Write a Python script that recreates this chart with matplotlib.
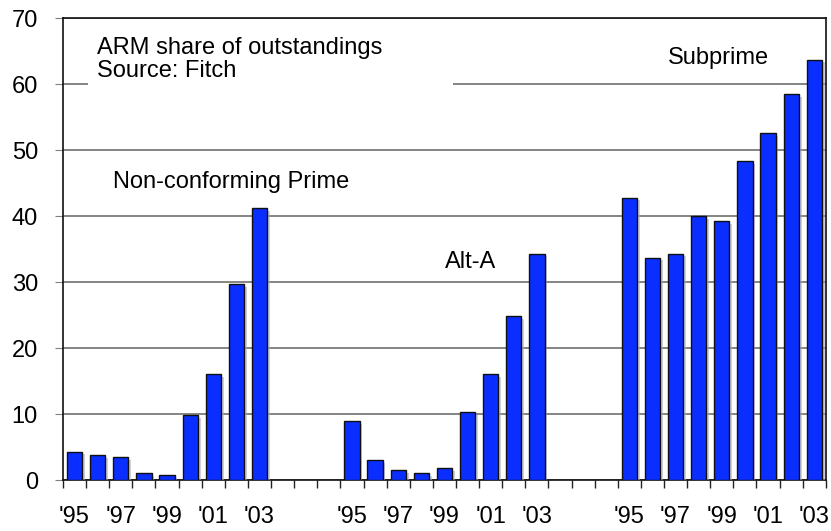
import numpy as np
import matplotlib.pyplot as plt
import matplotlib.patheffects as pe
from matplotlib.patches import Rectangle

plt.rcParams['font.family'] = ['Liberation Sans', 'DejaVu Sans']

years = ["'95", "'96", "'97", "'98", "'99", "'00", "'01", "'02", "'03"]
prime = [4.3, 3.8, 3.5, 1.0, 0.7, 9.8, 16.0, 29.7, 41.2]
alt_a = [8.9, 3.0, 1.5, 1.0, 1.8, 10.3, 16.0, 24.8, 34.3]
subprime = [42.8, 33.7, 34.3, 40.0, 39.2, 48.3, 52.6, 58.5, 63.7]
groups = [prime, alt_a, subprime]
group_gap = 3  # empty slots between groups

fs = 17

fig = plt.figure(figsize=(8.31, 5.31), dpi=100)
ax = fig.add_axes([0.0758, 0.096, 0.918, 0.870])

labels_pos = []
labels = []
for g, vals in enumerate(groups):
    off = g * (len(years) + group_gap)
    xs = np.arange(len(vals)) + off
    ax.bar(xs, vals, width=0.66, color='#0A2EFF', edgecolor='#101010',
           linewidth=1.0, zorder=3,
           path_effects=[pe.SimplePatchShadow(offset=(2, -2), shadow_rgbFace='#b0b0c0', alpha=0.6),
                         pe.Normal()])
    for i in range(0, len(years), 2):
        labels_pos.append(off + i)
        labels.append(years[i])

nslots = 3 * len(years) + 2 * group_gap
ax.set_xlim(-0.5, nslots - 0.5)
ax.set_ylim(0, 70)
ax.set_yticks(range(0, 71, 10))
ax.tick_params(axis='y', labelsize=fs, length=6, color='#808080', pad=12)
ax.yaxis.grid(True, color='#707070', linewidth=1.2, zorder=0)
ax.set_axisbelow(True)

ax.set_xticks(labels_pos)
ax.set_xticklabels(labels)
ax.set_xticks(np.arange(-0.5, nslots, 1), minor=True)
ax.tick_params(axis='x', which='major', length=0, labelsize=fs, pad=19)
ax.tick_params(axis='x', which='minor', length=6, width=1.0, color='#202020')

for s in ax.spines.values():
    s.set_color('#101010')
    s.set_linewidth(1.2)

# white text box hiding part of the 60 gridline
ax.add_patch(Rectangle((0.58, 56), 15.79, 12, facecolor='white', edgecolor='none', zorder=1))
ax.text(0.97, 63.7, 'ARM share of outstandings\nSource: Fitch', fontsize=fs,
        va='center', ha='left', linespacing=1.05, zorder=4)
ax.text(27.87, 63.9, 'Subprime', fontsize=fs, ha='center', va='center', zorder=4)
ax.text(6.79, 45.2, 'Non-conforming Prime', fontsize=fs, ha='center', va='center', zorder=4)
ax.text(17.15, 33.0, 'Alt-A', fontsize=fs, ha='center', va='center', zorder=4)

fig.savefig('out.png', dpi=100)
